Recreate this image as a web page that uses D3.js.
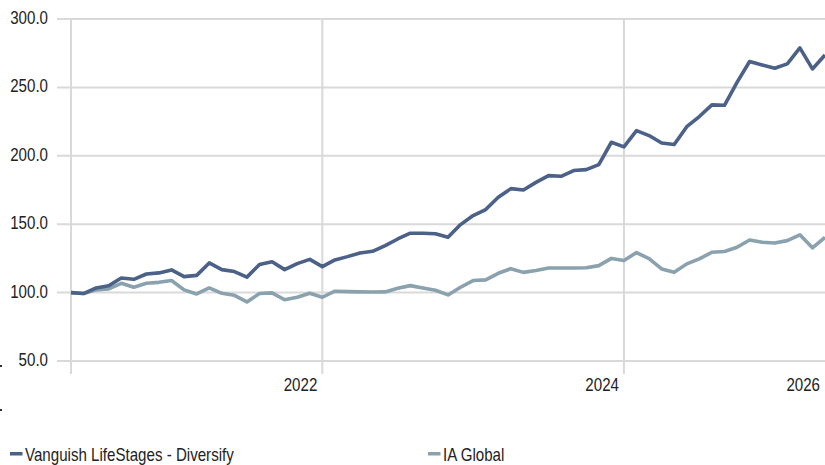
<!DOCTYPE html>
<html lang="en">
<head>
    <meta charset="UTF-8">
    <title>Vanguish LifeStages - Diversify vs IA Global</title>
    <script src="https://d3js.org/d3.v7.min.js"></script>
    <style>
        body {
            margin: 0;
            padding: 0;
            background: #fff;
        }
        #chart {
            width: 825px;
            height: 465px;
            overflow: hidden;
        }
        text {
            font-family: "Liberation Sans", Arial, sans-serif;
            font-size: 18px;
            fill: #222;
        }
        .grid line {
            stroke: #d9d9d9;
            stroke-width: 2px;
        }
    </style>
</head>
<body>
    <div id="chart"></div>

    <script>
        // monthly growth of 100
        const fundValues = [
            100, 99.3, 103.4, 105, 110.7, 109.7, 113.6, 114.4, 116.6, 111.7,
            112.6, 121.7, 116.8, 115.4, 111.3, 120.5, 122.6, 116.8, 121.2, 124.3,
            119, 123.9, 126.3, 129, 130.2, 134.4, 139.2, 143.4, 143.4, 143,
            140.4, 149.7, 156.3, 160.7, 169.7, 176, 175, 180.6, 185.5, 185,
            189.2, 189.9, 193.6, 209.9, 206.5, 218.4, 214.8, 209.4, 208.2, 221.3,
            228.7, 237.2, 236.9, 253.7, 268.9, 266.4, 264, 267.2, 278.9, 263.5,
            273.7
        ];
        const sectorValues = [
            100, 99.3, 102, 102.7, 106.8, 103.9, 106.8, 107.5, 108.8, 102,
            99, 103.4, 99.5, 98, 93.2, 99.3, 99.8, 94.8, 96.6, 99.5,
            96.6, 101, 100.7, 100.5, 100.4, 100.5, 103.2, 105.1, 103.4, 101.7,
            98.3, 103.9, 108.8, 109.3, 114.1, 117.5, 114.8, 116.1, 118, 118,
            118, 118.2, 119.7, 125, 123.4, 129.3, 124.8, 117.3, 114.8, 121,
            124.6, 129.5, 130, 133.1, 138.5, 136.8, 136.3, 138, 142.2, 132.7,
            140.4
        ];
        const seriesNames = ["Vanguish LifeStages - Diversify", "IA Global"];
        const seriesColors = ["#4b6188", "#8aa1ae"];
        const yTicks = [50, 100, 150, 200, 250, 300];
        const xTickIndex = [20, 44, 60];
        const xTickLabels = ["2022", "2024", "2026"];
        const xGridIndex = [0, 20, 44];

        const width = 825, height = 465;
        const plotLeft = 71, plotRight = 825, plotTop = 19, plotBottom = 361;
        const squeeze = 0.84; // condensed look

        const svg = d3.select("#chart").append("svg")
            .attr("width", width)
            .attr("height", height);

        const x = d3.scaleLinear()
            .domain([0, fundValues.length - 1])
            .range([plotLeft, plotRight]);

        const y = d3.scaleLinear()
            .domain([50, 300])
            .range([plotBottom, plotTop]);

        function place(px, py) {
            return `translate(${px},${py}) scale(${squeeze},1)`;
        }

        // horizontal grid
        const grid = svg.append("g").attr("class", "grid");
        grid.selectAll("line.h")
            .data(yTicks)
            .enter().append("line")
            .attr("class", "h")
            .attr("x1", 57)
            .attr("x2", width)
            .attr("y1", d => y(d))
            .attr("y2", d => y(d));

        // vertical grid / axis
        grid.selectAll("line.v")
            .data(xGridIndex)
            .enter().append("line")
            .attr("class", "v")
            .attr("x1", d => x(d))
            .attr("x2", d => x(d))
            .attr("y1", y(300))
            .attr("y2", plotBottom + 13);

        // y labels
        svg.append("g").selectAll("text")
            .data(yTicks)
            .enter().append("text")
            .attr("transform", d => place(48, y(d) + 5))
            .attr("text-anchor", "end")
            .text(d => d3.format(".1f")(d));

        // x labels
        svg.append("g").selectAll("text")
            .data(xTickIndex)
            .enter().append("text")
            .attr("transform", d => place(Math.min(x(d) - 5, width - 2), 391))
            .attr("text-anchor", "end")
            .text((d, i) => xTickLabels[i]);

        const line = d3.line()
            .x((d, i) => x(i))
            .y(d => y(d));

        // draw the index line underneath the fund
        [sectorValues, fundValues].forEach((vals, k) => {
            svg.append("path")
                .datum(vals)
                .attr("fill", "none")
                .attr("stroke", seriesColors[1 - k])
                .attr("stroke-width", 3.6)
                .attr("stroke-linejoin", "round")
                .attr("d", line);
        });

        // legend
        const legendX = [10, 428];
        const legend = svg.append("g");
        seriesNames.forEach((name, i) => {
            legend.append("rect")
                .attr("x", legendX[i])
                .attr("y", 452)
                .attr("width", 12.5)
                .attr("height", 3.5)
                .attr("fill", seriesColors[i]);
            legend.append("text")
                .attr("transform", place(legendX[i] + 15, 461))
                .text(name);
        });

        // stray marks at the left edge
        svg.selectAll("rect.dot")
            .data([366, 410])
            .enter().append("rect")
            .attr("class", "dot")
            .attr("x", 0)
            .attr("y", d => d - 1)
            .attr("width", 2)
            .attr("height", 2)
            .attr("fill", "#333");
    </script>
</body>
</html>
